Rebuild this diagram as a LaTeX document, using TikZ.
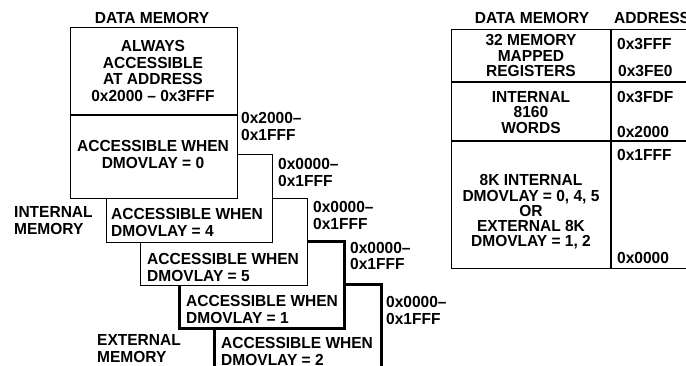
\documentclass[tikz,border=0pt]{standalone}
\usepackage{fontspec}
\setmainfont{Liberation Sans}[FakeStretch=0.97]
\begin{document}
\begin{tikzpicture}[x=1pt,y=-1pt,
  txt/.style={font=\fontsize{16}{16.5}\selectfont\bfseries, inner sep=0pt, align=center},
  ltxt/.style={font=\fontsize{16}{16.5}\selectfont\bfseries, inner sep=0pt, align=left, anchor=west},
  ttxt/.style={font=\fontsize{16}{15.3}\selectfont\bfseries, inner sep=0pt, align=center},
  box/.style={draw, fill=white, line width=1.2pt, anchor=north west, inner sep=0pt},
  thickbox/.style={box, line width=2.6pt},
  tline/.style={line width=1.2pt}]
\useasboundingbox (0,0) rectangle (686,366);

% ---- stacked overlay boxes (back to front) ----
\node[thickbox, minimum width=167pt, minimum height=100pt] (b5) at (213,283) {};
\node[thickbox, minimum width=165pt, minimum height=87pt] (b4) at (178,240) {};
\node[box, minimum width=167pt, minimum height=87pt] (b3) at (140,198) {};
\node[box, minimum width=166pt, minimum height=88pt] (b2) at (106,154) {};
\node[box, minimum width=167pt, minimum height=171pt] (b1) at (70,27) {};
\coordinate (d1l) at (70,115);
\coordinate (d1r) at (237,115);
\draw[tline] (d1l) -- (d1r);

% ---- texts of the stack ----
\node[txt] (t0) at (152,17.5) {DATA MEMORY};
\node[txt] (t1) at (153,71) {ALWAYS\\ACCESSIBLE\\AT ADDRESS\\0x2000 – 0x3FFF};
\node[txt] (t2) at (153,154.5) {ACCESSIBLE WHEN\\DMOVLAY = 0};
\node[ltxt] (t3) at (111,222.5) {ACCESSIBLE WHEN\\DMOVLAY = 4};
\node[ltxt] (t4) at (147,267.5) {ACCESSIBLE WHEN\\DMOVLAY = 5};
\node[ltxt] (t5) at (186,309.5) {ACCESSIBLE WHEN\\DMOVLAY = 1};
\node[ltxt] (t6) at (221,351.5) {ACCESSIBLE WHEN\\DMOVLAY = 2};

\node[ltxt] (a1) at (241,126.5) {0x2000–\\0x1FFF};
\node[ltxt] (a2) at (278,172.5) {0x0000–\\0x1FFF};
\node[ltxt] (a3) at (313,215.5) {0x0000–\\0x1FFF};
\node[ltxt] (a4) at (350,256) {0x0000–\\0x1FFF};
\node[ltxt] (a5) at (386,310.5) {0x0000–\\0x1FFF};

\node[ltxt] (im) at (14,220.5) {INTERNAL\\MEMORY};
\node[ltxt] (em) at (97,348.5) {EXTERNAL\\MEMORY};

% ---- memory map table ----
\node[draw, line width=1.2pt, anchor=north west, inner sep=0pt, minimum width=260pt, minimum height=239pt] (tab) at (451,29) {};
\coordinate (c1) at (611,29);
\coordinate (c2) at (611,268);
\coordinate (r1l) at (451,82);
\coordinate (r1r) at (711,82);
\coordinate (r2l) at (451,141);
\coordinate (r2r) at (711,141);
\draw[tline] (c1) -- (c2);
\draw[tline] (r1l) -- (r1r);
\draw[tline] (r2l) -- (r2r);

\node[txt] (h1) at (532,17.5) {DATA MEMORY};
\node[ltxt] (h2) at (614,17.5) {ADDRESS};

\node[ttxt] (m1) at (531,55.5) {32 MEMORY\\MAPPED\\REGISTERS};
\node[ttxt] (m2) at (531,112.5) {INTERNAL\\8160\\WORDS};
\node[ttxt] (m3) at (531,212) {8K INTERNAL\\DMOVLAY = 0, 4, 5\\OR\\EXTERNAL 8K\\DMOVLAY = 1, 2};

\node[ltxt] (ad1) at (617,44) {0x3FFF};
\node[ltxt] (ad2) at (618,71) {0x3FE0};
\node[ltxt] (ad3) at (617,97) {0x3FDF};
\node[ltxt] (ad4) at (617,132) {0x2000};
\node[ltxt] (ad5) at (617,155) {0x1FFF};
\node[ltxt] (ad6) at (617,258) {0x0000};
\end{tikzpicture}
\end{document}
